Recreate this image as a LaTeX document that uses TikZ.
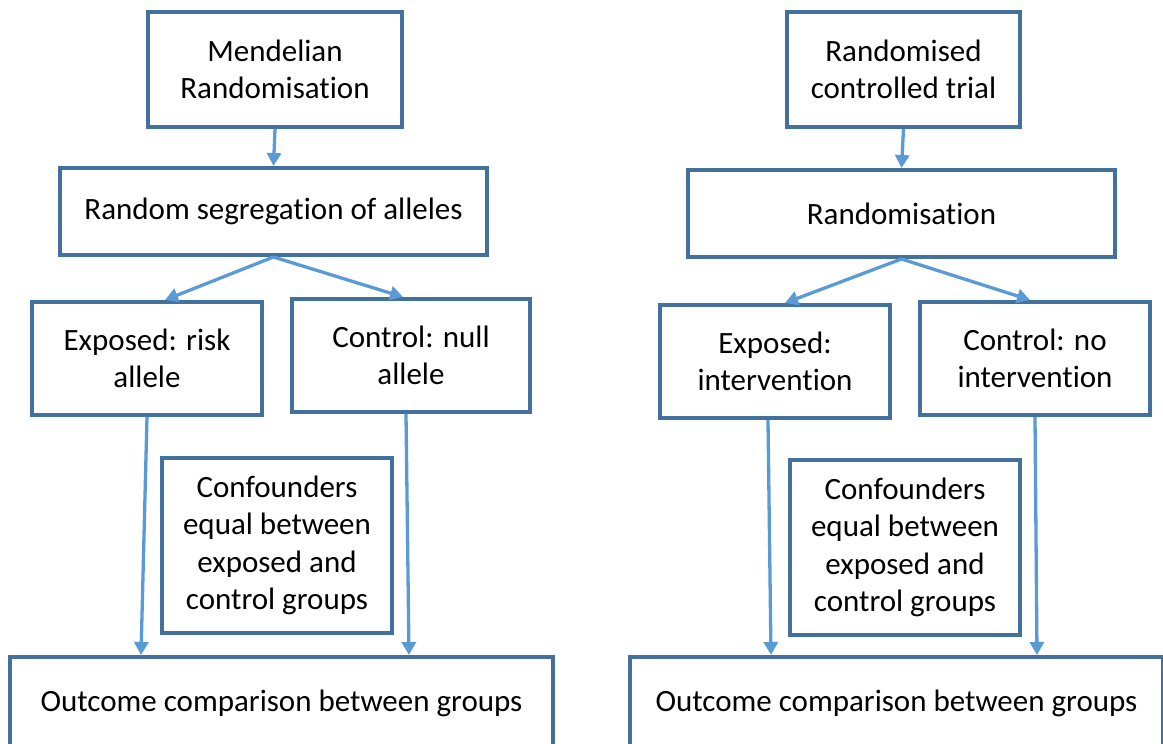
\documentclass[tikz,border=0pt]{standalone}
\usepackage{fontspec}
\setmainfont[RawFeature={-liga;-clig;-calt;-dlig}]{Carlito}
\usetikzlibrary{arrows.meta}
\definecolor{boxblue}{HTML}{41719C}
\definecolor{arrblue}{HTML}{5B9BD5}
\begin{document}
\begin{tikzpicture}[x=1pt,y=-1pt,
  flowbox/.style={draw=boxblue,line width=4pt,fill=white,inner sep=0pt,align=center,
    font=\fontsize{31}{37.5}\selectfont},
  flowarrow/.style={draw=arrblue,line width=3.3pt,-{Triangle[length=13pt,width=14pt]}}]
\useasboundingbox (0,0) rectangle (1163,744);
% left diagram
\node[flowbox,minimum width=254pt,minimum height=115pt] (mr) at (275,69.5) {Mendelian\\Randomisat\kern0pt ion};
\node[flowbox,minimum width=427pt,minimum height=87pt] (rs) at (273.5,211.5) {Random segregat\kern0pt ion of alleles};
\node[flowbox,minimum width=230pt,minimum height=113pt] (ex) at (147,358.5) {Exposed: risk\\allele};
\node[flowbox,minimum width=238pt,minimum height=113pt] (co) at (411,355.5) {Control: null\\allele};
\node[flowbox,minimum width=230pt,minimum height=175pt] (cf) at (277,545.5) {Confounders\\equal between\\exposed and\\control groups};
\node[flowbox,minimum width=543pt,minimum height=92pt] (oc) at (281.5,703) {Outcome comparison between groups};
\draw[flowarrow] (mr.south) -- (rs.north);
\draw[flowarrow] (rs.south) -- ([xshift=18pt]ex.north);
\draw[flowarrow] (rs.south) -- ([xshift=-8pt]co.north);
\draw[flowarrow] (ex.south) -- ([xshift=-140.5pt]oc.north);
\draw[flowarrow] ([xshift=-5pt]co.south) -- ([xshift=127.5pt]oc.north);
% right diagram
\node[flowbox,minimum width=233pt,minimum height=115pt] (rct) at (903.5,69.5) {Randomised\\controlled trial};
\node[flowbox,minimum width=427pt,minimum height=87pt] (rn) at (901.5,213.5) {Randomisat\kern0pt ion};
\node[flowbox,minimum width=230pt,minimum height=113pt] (exb) at (775,361.5) {Exposed:\\intervent\kern0pt ion};
\node[flowbox,minimum width=230pt,minimum height=113pt] (cob) at (1035,358.5) {Control: no\\intervent\kern0pt ion};
\node[flowbox,minimum width=230pt,minimum height=175pt] (cfb) at (905,547.5) {Confounders\\equal between\\exposed and\\control groups};
\node[flowbox,minimum width=533pt,minimum height=92pt] (ocb) at (896.5,703) {Outcome comparison between groups};
\draw[flowarrow] (rct.south) -- (rn.north);
\draw[flowarrow] (rn.south) -- ([xshift=10pt]exb.north);
\draw[flowarrow] (rn.south) -- ([xshift=-5pt]cob.north);
\draw[flowarrow] ([xshift=-7pt]exb.south) -- ([xshift=-125.5pt]ocb.north);
\draw[flowarrow] (cob.south) -- ([xshift=140.5pt]ocb.north);
\end{tikzpicture}
\end{document}
